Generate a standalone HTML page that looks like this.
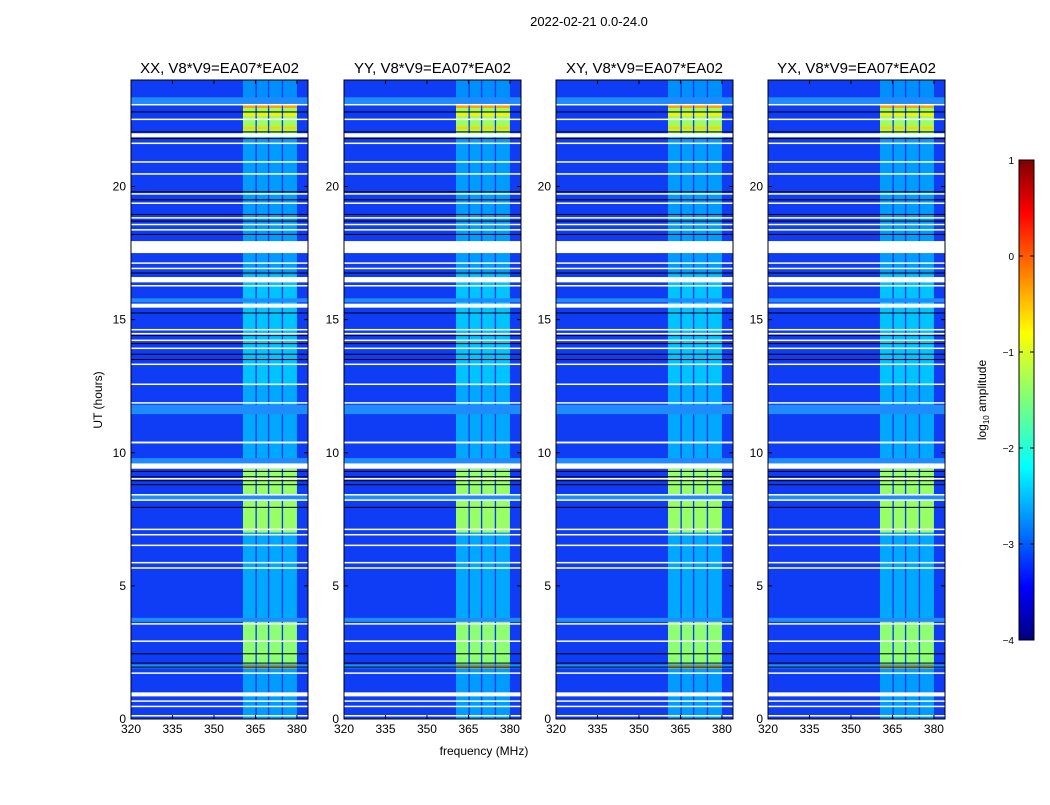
<!DOCTYPE html>
<html><head><meta charset="utf-8"><style>
body{margin:0;background:#fff;font-family:"Liberation Sans",sans-serif}
svg text{font-family:"Liberation Sans",sans-serif}
</style></head><body>
<svg id="c" width="1050" height="800">
<defs>
<linearGradient id="jet" x1="0" y1="1" x2="0" y2="0">
<stop offset="0" stop-color="#00007f"/><stop offset="0.11" stop-color="#0000ff"/>
<stop offset="0.36" stop-color="#00ffff"/><stop offset="0.5" stop-color="#7dff7a"/>
<stop offset="0.64" stop-color="#ffff00"/><stop offset="0.89" stop-color="#ff0000"/>
<stop offset="1" stop-color="#7f0000"/></linearGradient>
</defs>
<text x="589" y="26" font-size="13" text-anchor="middle">2022-02-21 0.0-24.0</text>
<text x="484" y="755" font-size="12" text-anchor="middle">frequency (MHz)</text>
<text x="102" y="400" font-size="12" text-anchor="middle" transform="rotate(-90 102 400)">UT (hours)</text>
<g>
<rect x="1019" y="160" width="15" height="480" fill="url(#jet)" stroke="#000" stroke-width="1"/>
</g>
<text x="986" y="400" font-size="12" text-anchor="middle" transform="rotate(-90 986 400)">log<tspan font-size="8" dy="3">10</tspan><tspan dy="-3"> amplitude</tspan></text>
</svg>
<script>
const panelTitles=["XX, V8*V9=EA07*EA02","YY, V8*V9=EA07*EA02","XY, V8*V9=EA07*EA02","YX, V8*V9=EA07*EA02"];
const xTicks=[320,335,350,365,380];
const yTicks=[0,5,10,15,20];
const cbTicks=[1,0,-1,-2,-3,-4];
const subBands=[[360.5,365],[365.5,369.5],[370,374.5],[375,380]];
// in-band time segments [start,end,level]
const bandSegments=[[0,2.0,0.6],[2.0,3.7,2.4],[3.7,7.0,0.7],[7.0,9.4,2.5],[9.4,12.5,0.7],[12.5,16.7,0.9],[16.7,21.9,0.6],[21.9,23.1,2.5],[23.1,24,0.5]];
const hotRows=[[1.9,2.0,3.8],[22.95,23.05,4.0],[22.15,22.25,3.6],[22.65,22.75,3.4]];
const cyanRows=[[1.9,2.05],[3.65,3.8],[8.2,8.45],[9.6,9.8],[11.45,11.8],[15.65,15.8],[23.1,23.35]];
const whiteRows=[[0.1,0.15],[0.45,0.5],[0.65,0.7],[0.85,1.0],[1.7,1.75],[2.9,2.95],[3.55,3.6],[5.65,5.7],[5.85,5.9],[6.5,6.55],[6.9,6.95],[7.1,7.15],[8.2,8.25],[8.4,8.45],[9.0,9.05],[9.4,9.6],[10.35,10.42],[11.85,11.9],[12.55,12.6],[13.3,13.35],[13.9,13.95],[14.2,14.25],[14.45,14.5],[14.6,14.65],[15.45,15.6],[16.25,16.3],[16.4,16.6],[16.9,16.95],[17.1,17.15],[17.5,17.95],[18.35,18.4],[18.55,18.6],[18.8,18.85],[19.35,19.4],[19.7,19.75],[20.45,20.5],[20.9,20.95],[21.6,21.65],[21.85,22.0],[22.5,22.55],[23.05,23.1]];
const blackRows=[1.95,2.1,2.45,7.95,8.8,8.95,9.1,9.3,13.5,13.7,14.1,14.4,15.25,16.75,18.2,18.7,18.95,19.5,19.8,21.8,22.05,22.8];
const panelX=[131,344,556,768];
const PW=177,Y0=719,Y1=80,FMIN=320,FMAX=384,HMAX=24;
const svg=document.getElementById('c');
const NS="http://www.w3.org/2000/svg";
function yS(h){return Y0-(h/HMAX)*(Y0-Y1);}
function jet(v){v=Math.max(0,Math.min(1,v));
 const r=Math.max(0,Math.min(1,1.5-Math.abs(4*v-3))),g=Math.max(0,Math.min(1,1.5-Math.abs(4*v-2))),b=Math.max(0,Math.min(1,1.5-Math.abs(4*v-1)));
 return `rgb(${Math.round(r*255)},${Math.round(g*255)},${Math.round(b*255)})`;}
function lvl(l){return jet(0.2+l*0.13);}
function mk(tag,attrs,parent){const e=document.createElementNS(NS,tag);for(const k in attrs)e.setAttribute(k,attrs[k]);(parent||svg).appendChild(e);return e;}
panelX.forEach((x0,pi)=>{
 const xS=f=>x0+(f-FMIN)/(FMAX-FMIN)*PW;
 const g=mk('g',{});
 
 
 const bg=mk('rect',{x:x0,y:Y1,width:PW,height:Y0-Y1,fill:'#0f3cf5'},g);
 
 
 subBands.forEach(sb=>{bandSegments.forEach(s=>{
  const r=mk('rect',{x:xS(sb[0]),y:yS(s[1]),width:xS(sb[1])-xS(sb[0]),height:yS(s[0])-yS(s[1]),fill:lvl(s[2])},g);
  
  
 });});
 cyanRows.forEach(c=>{const r=mk('rect',{x:x0,y:yS(c[1]),width:PW,height:Math.max(1,yS(c[0])-yS(c[1])),fill:'#1e8cff'},g);
  
  });
 hotRows.forEach(c=>{subBands.forEach(sb=>{const r=mk('rect',{x:xS(sb[0]),y:yS(c[1]),width:xS(sb[1])-xS(sb[0]),height:Math.max(1,yS(c[0])-yS(c[1])),fill:lvl(c[2])},g);
  
  });});
 blackRows.forEach(h=>{const r=mk('rect',{x:x0,y:yS(h)-0.5,width:PW,height:1,fill:'#000'},g);
  
  });
 whiteRows.forEach(w=>{const r=mk('rect',{x:x0,y:yS(w[1]),width:PW,height:Math.max(1.5,yS(w[0])-yS(w[1])),fill:'#fff'},g);
  
  });
 const fr=mk('rect',{x:x0,y:Y1,width:PW,height:Y0-Y1,fill:'none',stroke:'#000','stroke-width':1},g);
 
 
 const t=mk('text',{x:x0+PW/2,y:73,'font-size':15,'text-anchor':'middle'},g);t.textContent=panelTitles[pi];
 
 
 xTicks.forEach(v=>{const x=xS(v);
  mk('line',{x1:x,x2:x,y1:Y0,y2:Y0-4,stroke:'#000'},g);mk('line',{x1:x,x2:x,y1:Y1,y2:Y1+4,stroke:'#000'},g);
  const l=mk('text',{x:x,y:Y0+14,'font-size':12,'text-anchor':'middle'},g);l.textContent=v;
  
  });
 yTicks.forEach(v=>{const y=yS(v);
  mk('line',{x1:x0,x2:x0+4,y1:y,y2:y,stroke:'#000'},g);mk('line',{x1:x0+PW,x2:x0+PW-4,y1:y,y2:y,stroke:'#000'},g);
  const l=mk('text',{x:x0-5,y:y+4,'font-size':12,'text-anchor':'end'},g);l.textContent=v;
  
  });
});
cbTicks.forEach(v=>{const y=160+(1-v)/5*480;
 mk('line',{x1:1019,x2:1023,y1:y,y2:y,stroke:'#000'});mk('line',{x1:1034,x2:1030,y1:y,y2:y,stroke:'#000'});
 const l=mk('text',{x:1014,y:y+4,'font-size':10,'text-anchor':'end'});l.textContent=v<0?'\u2212'+(-v):v;
 
 });
</script>
</body></html>
